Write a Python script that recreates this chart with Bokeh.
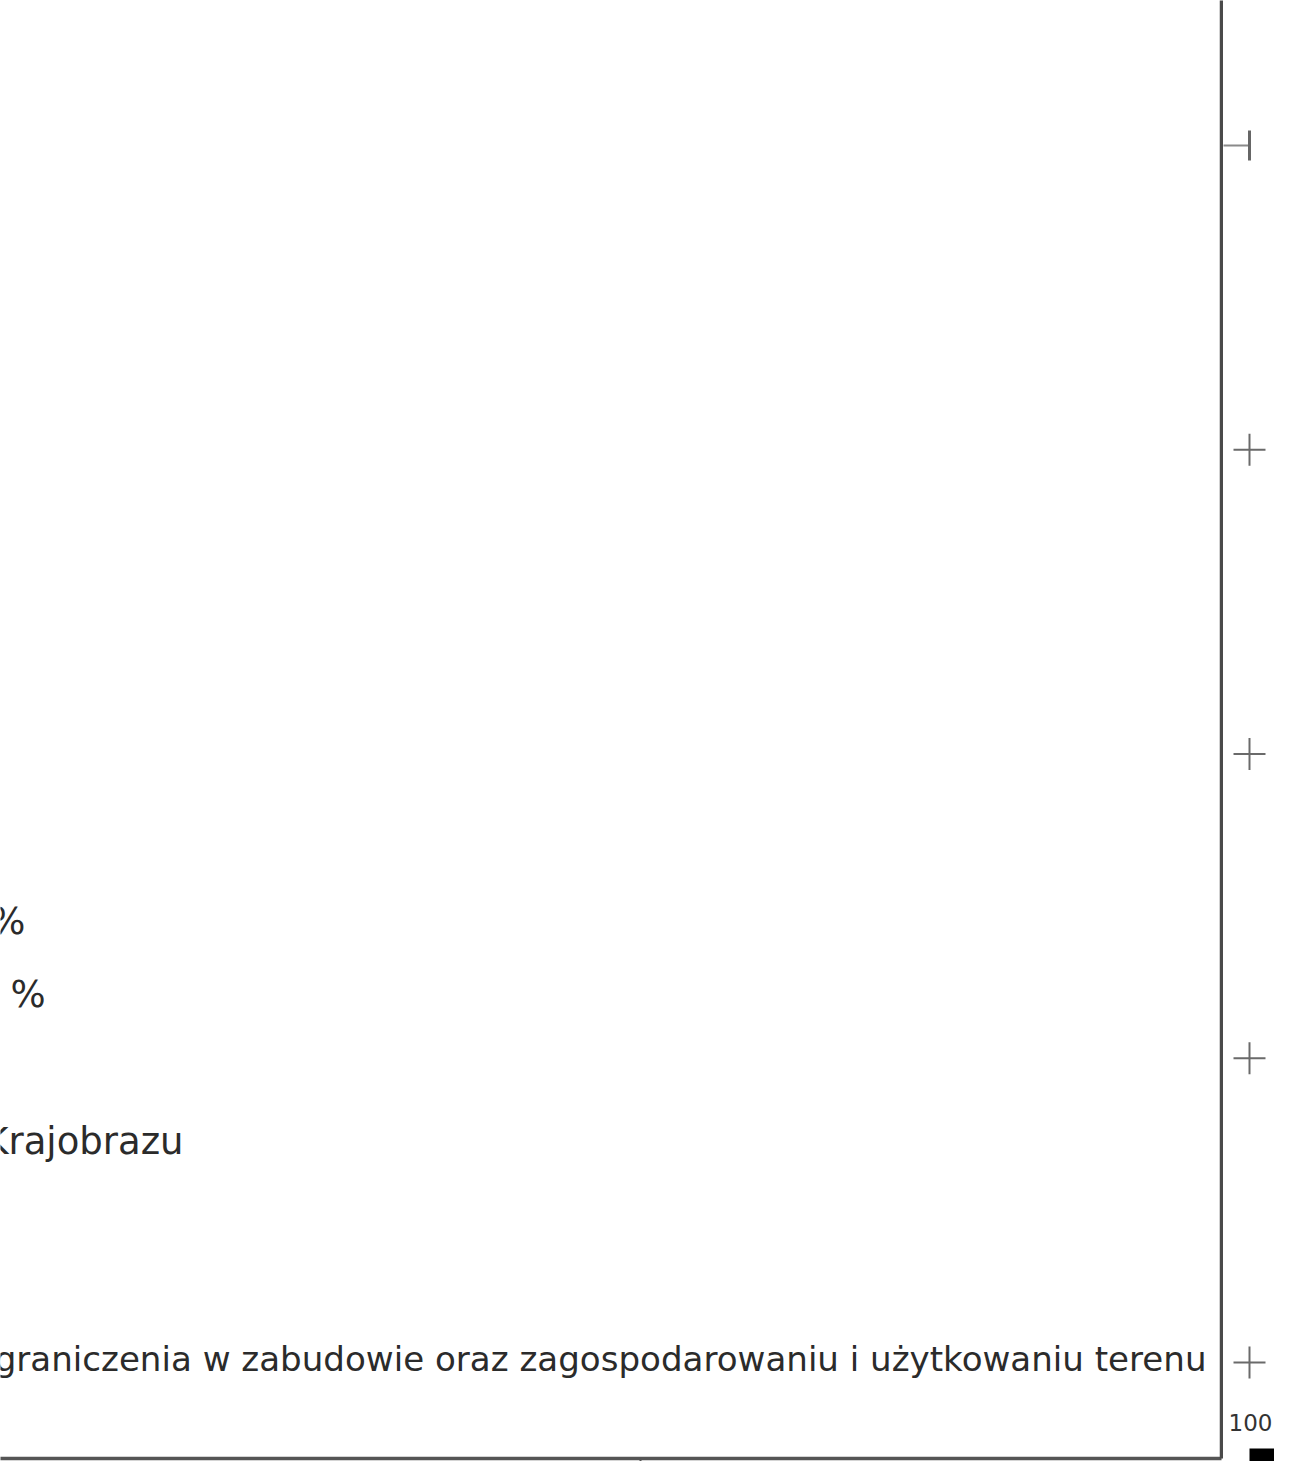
import numpy as np
from bokeh.plotting import figure
from bokeh.layouts import row
from bokeh.models import Range1d, FixedTicker, ColumnDataSource
from bokeh.core.properties import value
from bokeh.embed import file_html
from bokeh.resources import INLINE

# ---------------- data ----------------
# category rows, top to bottom (index along the vertical axis)
row_index = [0, 1, 2, 3, 4]

# category label visible at the last row
category_labels = ["Ograniczenia w zabudowie oraz zagospodarowaniu i użytkowaniu terenu"]
category_label_row = [3.99]
category_label_end = [98.77]

# other (left-clipped) annotation texts
note_texts = ["%", "%", "Krajobrazu"]
note_row = [2.55, 2.79, 3.275]
note_end = [2.05, 3.69, 14.99]

# the single visible tick on the bottom axis
x_tick_values = [52.42]

# right-hand panel: markers per row
cross_rows = [1, 2, 3, 4]
cross_values = [0, 0, 0, 0]
whisker_rows = [0]
whisker_low = [-35]
whisker_high = [0]

# scale label and scale bar
scale_labels = ["100"]
scale_label_row = [4.198]
scale_label_value = [1]
scale_bar_start = [0]
scale_bar_end = [40]
scale_bar_top = [4.283]
scale_bar_bottom = [4.34]

# ---------------- figures ----------------
FONT = value("DejaVu Sans")
K_TOP = -0.4766
yr = Range1d(start=4.3155, end=K_TOP)

p = figure(frame_width=1221, frame_height=1458,
           x_range=Range1d(0, 100), y_range=yr,
           y_axis_location="right",
           output_backend="svg", toolbar_location=None,
           min_border_left=0, min_border_right=2,
           min_border_top=0, min_border_bottom=0)
p.grid.visible = False
p.outline_line_color = None
p.background_fill_color = "white"
p.border_fill_color = "white"

ya = p.yaxis[0]
ya.ticker = FixedTicker(ticks=[], minor_ticks=[])
ya.axis_label = None
ya.major_label_standoff = 0
ya.major_tick_out = 0
ya.major_tick_in = 0
ya.minor_tick_out = 0
ya.minor_tick_in = 0
ya.axis_line_color = "#4a4a4a"
ya.axis_line_width = 3.5

xa = p.xaxis[0]
xa.ticker = FixedTicker(ticks=[], minor_ticks=x_tick_values)
xa.axis_label = None
xa.major_label_standoff = 0
xa.major_tick_out = 0
xa.major_tick_in = 0
xa.minor_tick_out = 3
xa.minor_tick_in = 0
xa.minor_tick_line_color = "#555555"
xa.minor_tick_line_width = 2
xa.axis_line_color = "#555555"
xa.axis_line_width = 3.5

src_cat = ColumnDataSource(dict(x=category_label_end, y=category_label_row, t=category_labels))
p.text(x="x", y="y", text="t", source=src_cat,
       text_align="right", text_baseline="alphabetic",
       text_font=FONT, text_font_size="34.1px", text_color="#2b2b2b")

src_note = ColumnDataSource(dict(x=note_end, y=note_row, t=note_texts))
p.text(x="x", y="y", text="t", source=src_note,
       text_align="right", text_baseline="alphabetic",
       text_font=FONT, text_font_size="37px", text_color="#2b2b2b")

# right-hand strip: same vertical scale, frame reaching the very bottom
q_yr = Range1d(start=4.3254, end=K_TOP)
q = figure(frame_width=51, frame_height=1461,
           x_range=Range1d(-26, 25), y_range=q_yr,
           output_backend="svg", toolbar_location=None,
           min_border_left=0, min_border_right=0,
           min_border_top=0, min_border_bottom=0)
q.axis.visible = False
q.grid.visible = False
q.outline_line_color = None
q.background_fill_color = "white"
q.border_fill_color = "white"

q.segment(x0=whisker_low, y0=whisker_rows, x1=whisker_high, y1=whisker_rows,
          line_color="#8a8a8a", line_width=2)
q.scatter(x=whisker_high, y=whisker_rows, marker="dash", angle=np.pi / 2,
          size=30, line_color="#666666", line_width=3)
q.scatter(x=cross_values, y=cross_rows, marker="cross", size=32,
          line_color="#6a6a6a", line_width=2)
q.text(x=scale_label_value, y=scale_label_row, text=scale_labels,
       text_align="center", text_baseline="alphabetic",
       text_font=FONT, text_font_size="23px", text_color="#333333")
q.quad(left=scale_bar_start, right=scale_bar_end, top=scale_bar_top,
       bottom=scale_bar_bottom, fill_color="black", line_color=None)

layout = row(p, q, spacing=0)
open("out.html", "w").write(file_html(layout, INLINE))
